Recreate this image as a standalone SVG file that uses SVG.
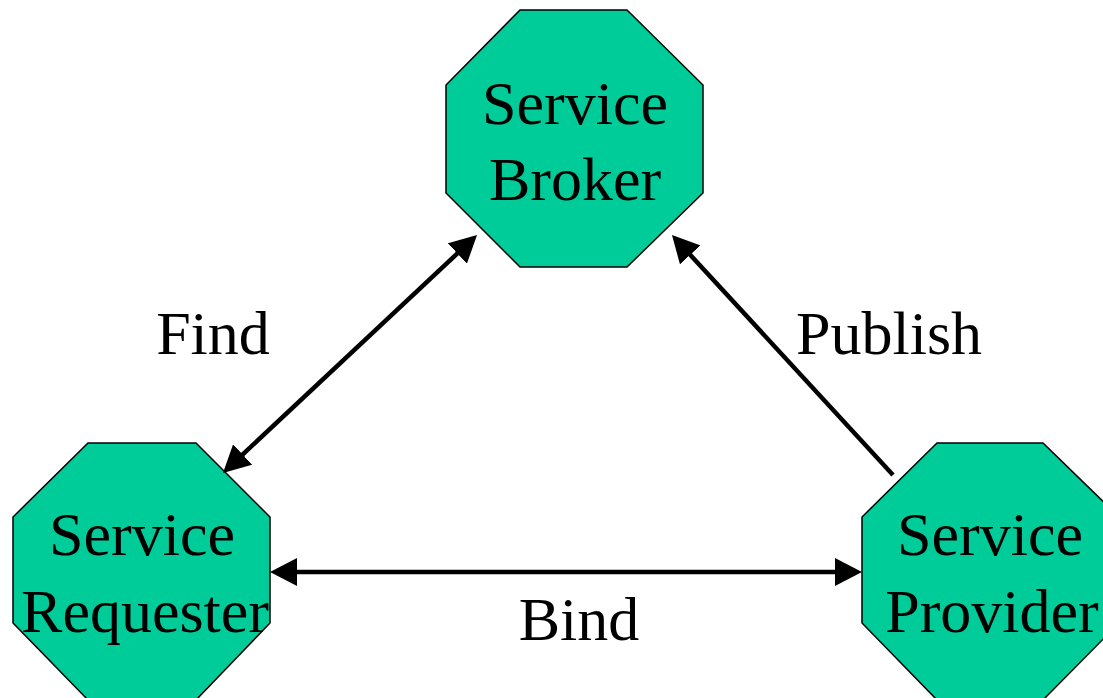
<svg xmlns="http://www.w3.org/2000/svg" width="1103" height="698" viewBox="0 0 1103 698">
  <style>
    .node { fill: #00CC99; stroke: #000000; stroke-width: 1.5; }
    .label { font-family: "Liberation Serif", "Times New Roman", serif; font-size: 62px; fill: #000000; text-anchor: middle; }
    .edge { stroke: #000000; stroke-width: 4.5; fill: none; }
  </style>
  <defs>
    <marker id="arrow" viewBox="0 0 27 28" refX="19" refY="14" markerWidth="27" markerHeight="28" markerUnits="userSpaceOnUse" orient="auto-start-reverse">
      <path d="M0,0 L27,14 L0,28 z" fill="#000000"/>
    </marker>
  </defs>
  <rect width="1103" height="698" fill="#ffffff"/>

  <g id="broker">
    <polygon class="node" points="520,10 627,10 703,85 703,193 627,267 520,267 446,193 446,85"/>
    <text class="label" x="575" y="124">Service</text>
    <text class="label" x="575" y="200">Broker</text>
  </g>

  <g id="requester">
    <polygon class="node" points="88,443 196,443 270,517 270,623 196,700 88,700 13,623 13,517"/>
    <text class="label" x="142" y="555">Service</text>
    <text class="label" x="145" y="632">Requester</text>
  </g>

  <g id="provider">
    <polygon class="node" points="937,443 1043,443 1119,517 1119,623 1043,700 937,700 862,623 862,517"/>
    <text class="label" x="990" y="555">Service</text>
    <text class="label" x="992" y="632">Provider</text>
  </g>

  <g id="connectors">
    <line class="edge" x1="228.8" y1="467.5" x2="471.2" y2="240.5" marker-start="url(#arrow)" marker-end="url(#arrow)"/>
    <line class="edge" x1="893" y1="475" x2="677.4" y2="240.9" marker-end="url(#arrow)"/>
    <line class="edge" x1="278" y1="572" x2="854" y2="572" marker-start="url(#arrow)" marker-end="url(#arrow)"/>
    <text class="label" x="213" y="354">Find</text>
    <text class="label" x="889" y="354">Publish</text>
    <text class="label" x="579" y="640">Bind</text>
  </g>
</svg>
